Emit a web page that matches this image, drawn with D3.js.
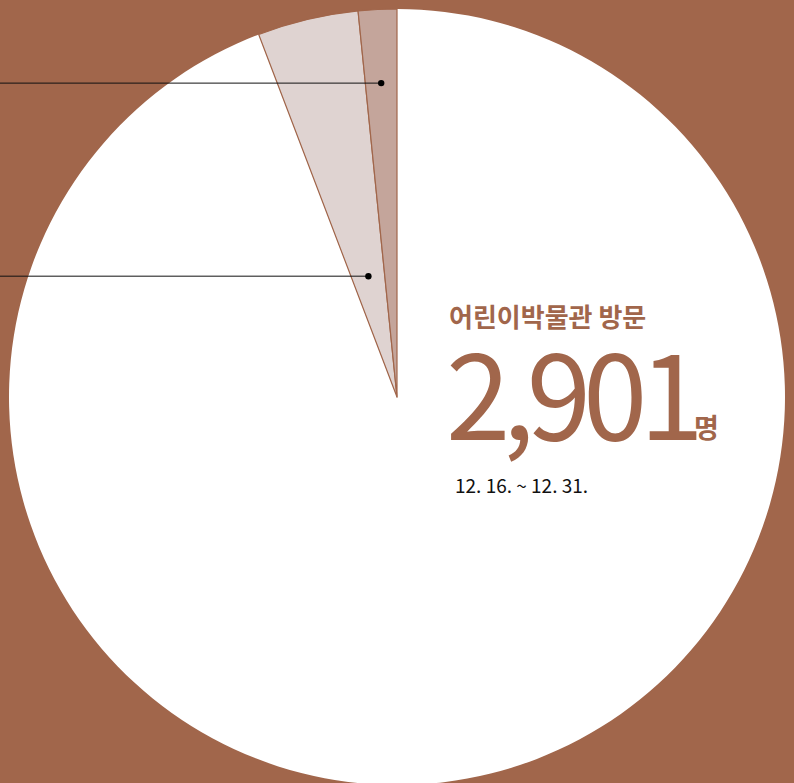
<!DOCTYPE html>
<html><head><meta charset="utf-8">
<script src="https://cdn.jsdelivr.net/npm/d3@7"></script>
<style>html,body{margin:0;padding:0;background:#a1664b;overflow:hidden}</style>
</head><body>
<svg id="c" width="794" height="783"></svg>
<script>
const categories = ["기타", "구분 A", "구분 B"];
const shares = [94.2, 4.2, 1.6];
const sliceColors = ["#ffffff", "#dfd3d1", "#c4a59b"];
const labelRadius = [null, 0.32, 0.81];
const titleText = "어린이박물관 방문";
const totalText = "2,901";
const unitText = "명";
const periodText = "12. 16. ~ 12. 31.";

const W = 794, H = 783;
const cx = 397, cy = 397, R = 388;
const svg = d3.select("#c");
svg.append("rect").attr("width", W).attr("height", H).attr("fill", "#a1664b");

const data = categories.map((c, i) => ({cat: c, v: shares[i], i}));
const pie = d3.pie().sort(null).value(d => d.v);
const arcs = pie(data);
const arc = d3.arc().innerRadius(0).outerRadius(R);
const g = svg.append("g").attr("transform", `translate(${cx},${cy})`);
g.selectAll("path").data(arcs).join("path")
  .attr("d", arc)
  .attr("fill", d => sliceColors[d.data.i])
  .attr("stroke", d => d.data.i === 0 ? "none" : "#a1664b")
  .attr("stroke-width", 1.2)
  .attr("stroke-linejoin", "round");

arcs.filter(d => d.data.i > 0).forEach(d => {
  const r = labelRadius[d.data.i] * R;
  const a = (d.startAngle + d.endAngle) / 2;
  const x = Math.sin(a) * r, y = -Math.cos(a) * r;
  g.append("line").attr("x1", -cx - 5).attr("y1", y).attr("x2", x).attr("y2", y)
    .attr("stroke", "#111").attr("stroke-width", 1);
  g.append("circle").attr("cx", x).attr("cy", y).attr("r", 3.2).attr("fill", "#000");
});

const font = "'Noto Sans CJK KR', 'Noto Sans', sans-serif";
const t = svg.append("text").attr("font-family", font).attr("fill", "#a1664b");
t.append("tspan").attr("x", 449).attr("y", 327)
  .attr("font-weight", 700).attr("font-size", 26).text(titleText);
t.append("tspan").attr("x", 446).attr("y", 440)
  .attr("font-weight", 400).attr("font-size", 116)
  .attr("letter-spacing", -8).text(totalText);
t.append("tspan").attr("x", 694).attr("y", 438)
  .attr("font-weight", 700).attr("font-size", 27).attr("letter-spacing", 0).text(unitText);
svg.append("text").attr("x", 455).attr("y", 493)
  .attr("font-family", font).attr("font-weight", 400).attr("font-size", 19)
  .attr("fill", "#111").text(periodText);
</script>
</body></html>
